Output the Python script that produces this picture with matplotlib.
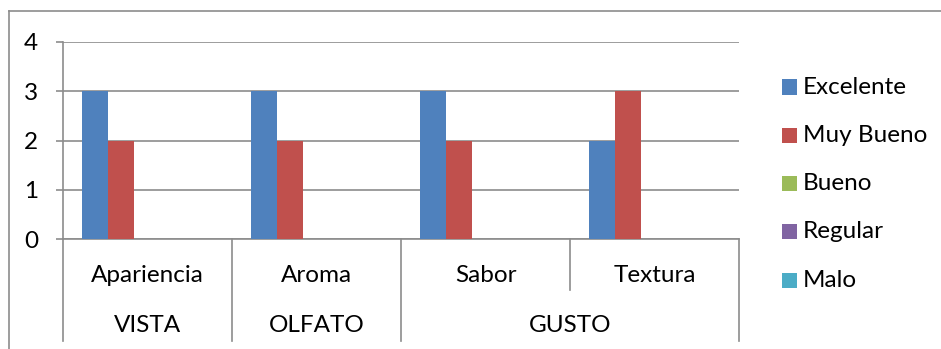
import matplotlib
matplotlib.use("Agg")
import matplotlib.pyplot as plt
import matplotlib.transforms as mtransforms
from matplotlib.patches import Rectangle
from matplotlib.lines import Line2D

plt.rcParams['font.family'] = ['Lato', 'DejaVu Sans']

# Data
subcategories = ["Apariencia", "Aroma", "Sabor", "Textura"]
groups = ["VISTA", "OLFATO", "GUSTO"]
group_spans = [1, 1, 2]
series_names = ["Excelente", "Muy Bueno", "Bueno", "Regular", "Malo"]
excelente = [3, 3, 3, 2]
muy_bueno = [2, 2, 2, 3]
bueno = [0, 0, 0, 0]
regular = [0, 0, 0, 0]
malo = [0, 0, 0, 0]
series_values = [excelente, muy_bueno, bueno, regular, malo]
colors = ["#4F81BD", "#C0504D", "#9BBB59", "#8064A2", "#4BACC6"]
y_ticks = [0, 1, 2, 3, 4]

W, H = 941, 349
GRAY = "#8C8C8C"
FS = 17.5

fig = plt.figure(figsize=(W / 100, H / 100), dpi=100)

# outer chart frame (left and top edges visible)
fig.add_artist(Line2D([9 / W, 9 / W], [0, 1 - 11 / H], transform=fig.transFigure,
                      color=GRAY, lw=1.2))
fig.add_artist(Line2D([9 / W, 1], [1 - 11 / H, 1 - 11 / H], transform=fig.transFigure,
                      color=GRAY, lw=1.2))

left, right, top, bottom = 63, 739, 42, 239
ax = fig.add_axes([left / W, 1 - bottom / H, (right - left) / W, (bottom - top) / H])

n = len(series_names)
bw = 0.77 / n
x = list(range(len(subcategories)))
for i, (name, vals, c) in enumerate(zip(series_names, series_values, colors)):
    ax.bar([xi + (i - (n - 1) / 2) * bw for xi in x], vals, width=bw, color=c,
           linewidth=0, label=name, zorder=3)

ax.set_xlim(-0.5, len(subcategories) - 0.5)
ax.set_ylim(0, 4)
ax.set_yticks(y_ticks)
ax.set_yticklabels([str(t) for t in y_ticks], fontsize=FS)
ax.yaxis.grid(True, color=GRAY, lw=1.2, zorder=0)
ax.set_axisbelow(True)
ax.tick_params(axis='y', length=5, width=1.2, color=GRAY, pad=13, direction='out')
ax.tick_params(axis='x', length=0, labelbottom=False)
for s in ["top", "right"]:
    ax.spines[s].set_visible(False)
ax.spines["left"].set_color(GRAY)
ax.spines["bottom"].set_color(GRAY)
ax.spines["left"].set_linewidth(1.2)
ax.spines["bottom"].set_linewidth(1.2)

# multi-level category axis
trans = mtransforms.blended_transform_factory(ax.transData, ax.transAxes)
ph = bottom - top
row1_y = -(275 - bottom) / ph
row2_y = -(325 - bottom) / ph
line_mid = -(290 - bottom) / ph
line_end = -(341 - bottom) / ph

for i, lab in enumerate(subcategories):
    ax.text(i, row1_y, lab, transform=trans, ha='center', va='center', fontsize=FS)

start = 0
bounds = [start]
for g, span in zip(groups, group_spans):
    center = start + (span - 1) / 2
    ax.text(center, row2_y, g, transform=trans, ha='center', va='center', fontsize=FS)
    start += span
    bounds.append(start)

for b in range(len(subcategories) + 1):
    xb = b - 0.5
    yend = line_end if b in bounds else line_mid
    ax.add_line(Line2D([xb, xb], [0, yend], transform=trans, color=GRAY, lw=1.2,
                       clip_on=False))

# legend
for i, (name, c) in enumerate(zip(series_names, colors)):
    yc = 87 + i * 48.3
    fig.add_artist(Rectangle((782 / W, 1 - (yc + 7.5) / H), 15 / W, 15 / H,
                             transform=fig.transFigure, color=c, lw=0))
    fig.text(803 / W, 1 - yc / H, name, ha='left', va='center', fontsize=FS)

fig.savefig("out.png", dpi=100)
